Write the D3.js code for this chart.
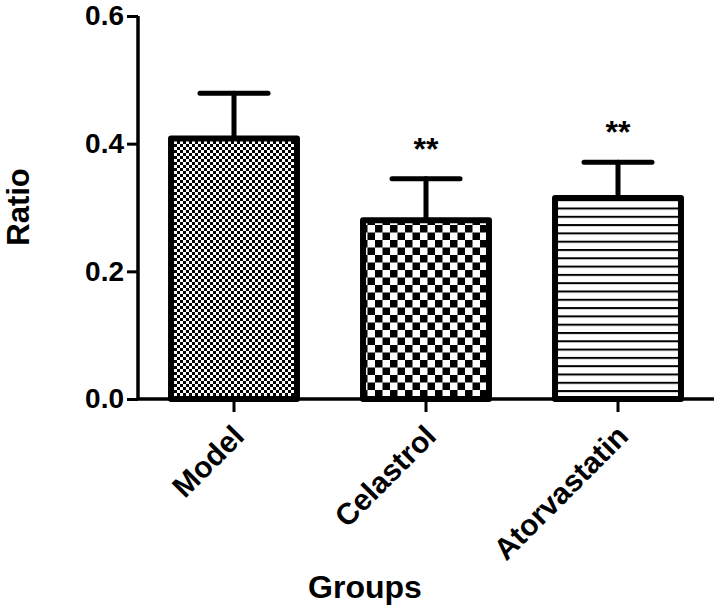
<!DOCTYPE html>
<html><head><meta charset="utf-8">
<script src="https://cdn.jsdelivr.net/npm/d3@7"></script>
<style>body{margin:0;background:#fff}svg{display:block}text{font-family:"Liberation Sans",Arial,sans-serif;font-weight:bold}</style>
</head><body><svg id="c" width="720" height="608"></svg>
<script>
const categories = ["Model", "Celastrol", "Atorvastatin"];
const means = [0.408, 0.280, 0.315];
const errUpper = [0.479, 0.345, 0.371];
const marks = ["", "**", "**"];
const yTicks = [0.0, 0.2, 0.4, 0.6];
const patterns = ["fineCheck", "bigCheck", "hLines"];

const svg = d3.select("#c");
const x0 = 138, x1 = 714, yTop = 16, yBot = 399;
const x = d3.scaleBand().domain(categories).range([x0, x1]).paddingInner(0.344).paddingOuter(0.172);
const y = d3.scaleLinear().domain([0, 0.6]).range([yBot, yTop]);

const defs = svg.append("defs");
let p = defs.append("pattern").attr("id", "fineCheck").attr("patternUnits", "userSpaceOnUse").attr("width", 6).attr("height", 6);
p.append("rect").attr("width", 6).attr("height", 6).attr("fill", "#fff");
p.append("rect").attr("width", 3).attr("height", 3).attr("fill", "#000");
p.append("rect").attr("x", 3).attr("y", 3).attr("width", 3).attr("height", 3).attr("fill", "#000");
p = defs.append("pattern").attr("id", "bigCheck").attr("patternUnits", "userSpaceOnUse").attr("width", 15).attr("height", 15);
p.append("rect").attr("width", 15).attr("height", 15).attr("fill", "#fff");
p.append("rect").attr("width", 7.5).attr("height", 7.5).attr("fill", "#000");
p.append("rect").attr("x", 7.5).attr("y", 7.5).attr("width", 7.5).attr("height", 7.5).attr("fill", "#000");
p = defs.append("pattern").attr("id", "hLines").attr("patternUnits", "userSpaceOnUse").attr("width", 8).attr("height", 8.3);
p.append("rect").attr("width", 8).attr("height", 8.3).attr("fill", "#fff");
p.append("rect").attr("y", 0).attr("width", 8).attr("height", 2).attr("fill", "#000");

const eg = svg.append("g").attr("stroke", "#000").attr("stroke-width", 5).attr("stroke-linecap", "round");
categories.forEach((c, i) => {
  const cx = x(c) + x.bandwidth() / 2;
  eg.append("line").attr("x1", cx).attr("x2", cx).attr("y1", y(means[i])).attr("y2", y(errUpper[i]));
  eg.append("line").attr("x1", cx - 34).attr("x2", cx + 34).attr("y1", y(errUpper[i])).attr("y2", y(errUpper[i]));
});

svg.append("g").selectAll("rect").data(categories).join("rect")
  .attr("x", d => x(d)).attr("width", x.bandwidth())
  .attr("y", (d, i) => y(means[i])).attr("height", (d, i) => yBot - y(means[i]))
  .attr("fill", (d, i) => `url(#${patterns[i]})`)
  .attr("stroke", "#000").attr("stroke-width", 6).attr("stroke-linejoin", "round");

svg.append("g").selectAll("text").data(categories).join("text")
  .attr("x", d => x(d) + x.bandwidth() / 2)
  .attr("y", (d, i) => y(errUpper[i]) - 19)
  .attr("text-anchor", "middle").attr("font-size", 32)
  .text((d, i) => marks[i]);

const ya = svg.append("g").attr("transform", `translate(${x0},0)`)
  .call(d3.axisLeft(y).tickValues(yTicks).tickFormat(d3.format(".1f")).tickSize(11).tickPadding(3));
ya.select(".domain").attr("stroke-width", 3.5).attr("d", `M-0,${yTop}V${yBot}`);
ya.selectAll(".tick line").attr("stroke-width", 3);
ya.selectAll(".tick text").attr("font-size", 28).attr("fill", "#000")
  .style("font-family", '"Liberation Sans",Arial,sans-serif').style("font-weight", "bold");

const xa = svg.append("g").attr("transform", `translate(0,${yBot})`)
  .call(d3.axisBottom(x).tickSize(13).tickPadding(6));
xa.select(".domain").attr("stroke-width", 3.5).attr("d", `M${x0},0H${x1}`);
xa.selectAll(".tick line").attr("stroke-width", 3);
xa.selectAll(".tick text").attr("font-size", 30).attr("fill", "#000")
  .style("font-family", '"Liberation Sans",Arial,sans-serif').style("font-weight", "bold")
  .attr("text-anchor", "end").attr("x", 0).attr("y", 0).attr("dy", 0)
  .attr("transform", "translate(12,39) rotate(-45)");

svg.append("text").attr("transform", "translate(29,207) rotate(-90)")
  .attr("text-anchor", "middle").attr("font-size", 31).text("Ratio");
svg.append("text").attr("x", 365).attr("y", 598)
  .attr("text-anchor", "middle").attr("font-size", 32).text("Groups");
</script></body></html>
